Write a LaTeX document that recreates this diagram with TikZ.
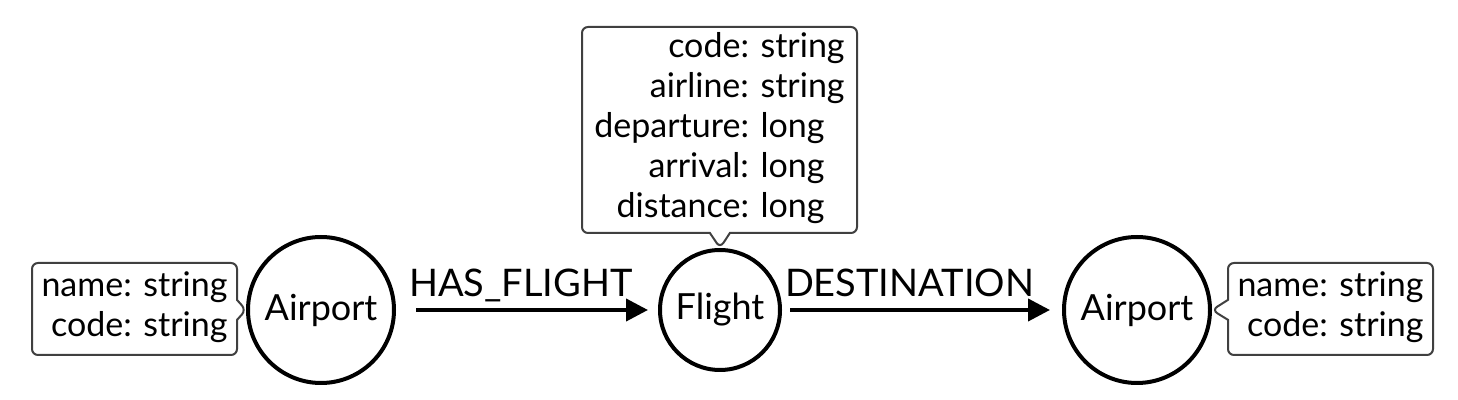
\documentclass[tikz,border=0pt]{standalone}
\usepackage{fontspec}
\setmainfont{Lato}
\usepackage{tikz}
\usetikzlibrary{shapes.callouts, arrows.meta}
\tikzstyle{entity} = [draw, circle, line width=2pt, minimum size=73pt, inner sep=0pt, font=\fontsize{18}{20}\selectfont]
\tikzstyle{props}  = [draw=black!75, rectangle callout, rounded corners=3pt, line width=1pt, fill=white, callout pointer width=10pt, inner sep=0pt]
\tikzstyle{arrow}  = [line width=2pt, -{Triangle[length=11pt,width=11pt]}]
\tikzstyle{lbl}    = [pos=0, anchor=base west, inner sep=0pt, yshift=6.5pt, font=\fontsize{19}{20}\selectfont]

\begin{document}
\begin{tikzpicture}[x=0.5pt, y=-0.5pt, font=\fontsize{17}{20}\selectfont]
  \useasboundingbox (0,0) rectangle (1458,400);

  %the three vertices
  \node[entity] (src) at (321,310) {Airport};
  \node[entity, minimum size=60pt] (flt) at (720,310) {Flight};
  \node[entity] (dst) at (1137,310) {Airport};

  %property boxes
  \node[props, minimum width=102.5pt, minimum height=46pt, callout absolute pointer={(src.west)}] (srcp) at (134.5,309)
    {\begin{tabular}{@{}r@{ }l@{}}name: & string\\ code: & string\end{tabular}};
  \node[props, minimum width=137.5pt, minimum height=103pt, callout absolute pointer={(flt.north)}] (fltp) at (719.5,130)
    {\begin{tabular}{@{}r@{ }l@{}}code: & string\\ airline: & string\\ departure: & long\\ arrival: & long\\ distance: & long\end{tabular}};
  \node[props, minimum width=102.5pt, minimum height=46pt, callout absolute pointer={(dst.east)}] (dstp) at (1330.5,309)
    {\begin{tabular}{@{}r@{ }l@{}}name: & string\\ code: & string\end{tabular}};

  %edges
  \draw[arrow, shorten <=10pt, shorten >=5pt] (src) -- node[lbl, xshift=5.5pt] {HAS\_FLIGHT} (flt);
  \draw[arrow, shorten <=4pt, shorten >=6pt] (flt) -- node[lbl, xshift=0.5pt] {DESTINATION} (dst);
\end{tikzpicture}
\end{document}
